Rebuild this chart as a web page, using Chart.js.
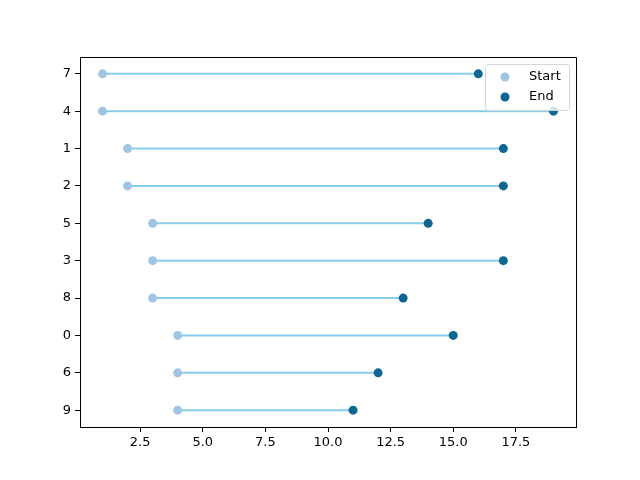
<!DOCTYPE html>
<html>
<head>
<meta charset="utf-8">
<script src="https://cdn.jsdelivr.net/npm/chart.js@4"></script>
<style>
  html, body { margin: 0; padding: 0; background: #fff; }
  #wrap { width: 640px; height: 480px; }
</style>
</head>
<body>
<div id="wrap"><canvas id="chart" width="640" height="480"></canvas></div>
<script>
// rows from bottom (y=0) to top (y=9)
const categories = ['9', '6', '0', '8', '3', '5', '2', '1', '4', '7'];
const startValues = [4, 4, 4, 3, 3, 3, 2, 2, 1, 1];
const endValues = [11, 12, 15, 13, 17, 14, 17, 17, 19, 16];
const xTicks = [2.5, 5.0, 7.5, 10.0, 12.5, 15.0, 17.5];

const startColor = '#a1c4e2';
const endColor = '#0f6691';
const lineColor = '#87ceeb';

// one line per row, connecting start to end
const lineSets = categories.map((c, i) => ({
    type: 'line',
    label: 'row' + c,
    data: [{ x: startValues[i], y: i }, { x: endValues[i], y: i }],
    borderColor: lineColor,
    borderWidth: 2,
    pointRadius: 0,
    showLine: true,
    order: 3
}));

const startSet = {
    type: 'scatter',
    label: 'Start',
    data: startValues.map((v, i) => ({ x: v, y: i })),
    backgroundColor: startColor,
    borderWidth: 0,
    pointRadius: 4.5,
    order: 2
};
const endSet = {
    type: 'scatter',
    label: 'End',
    data: endValues.map((v, i) => ({ x: v, y: i })),
    backgroundColor: endColor,
    borderWidth: 0,
    pointRadius: 4.5,
    order: 1
};

// matplotlib-style legend box inside the plot area
const boxLegend = {
    id: 'boxLegend',
    afterDraw(chart) {
        const ctx = chart.ctx;
        const a = chart.chartArea;
        const w = 84, h = 46;
        const x = a.right - w - 7, y = a.top + 7;
        ctx.save();
        ctx.fillStyle = 'rgba(255,255,255,0.8)';
        ctx.strokeStyle = '#d6d6d6';
        ctx.lineWidth = 1;
        ctx.beginPath();
        ctx.roundRect(x + 0.5, y + 0.5, w, h, 3);
        ctx.fill();
        ctx.stroke();
        const items = [['Start', startColor], ['End', endColor]];
        ctx.font = '13px "DejaVu Sans"';
        ctx.textBaseline = 'middle';
        items.forEach((it, k) => {
            const cy = y + 13 + k * 20;
            ctx.fillStyle = it[1];
            ctx.beginPath();
            ctx.arc(x + 20, cy, 4.5, 0, Math.PI * 2);
            ctx.fill();
            ctx.fillStyle = '#000';
            ctx.fillText(it[0], x + 44, cy);
        });
        ctx.restore();
    }
};

const tickGrid = {
    display: true,
    drawOnChartArea: false,
    drawTicks: true,
    tickLength: 5,
    tickColor: '#000',
    tickWidth: 1
};

new Chart(document.getElementById('chart'), {
    type: 'scatter',
    data: { datasets: [...lineSets, startSet, endSet] },
    options: {
        responsive: false,
        animation: false,
        layout: { padding: { left: 0, right: 64, top: 57, bottom: 0 } },
        plugins: {
            legend: { display: false },
            tooltip: { enabled: false }
        },
        scales: {
            x: {
                type: 'linear',
                min: 0.1,
                max: 19.9,
                afterBuildTicks: (s) => { s.ticks = xTicks.map(v => ({ value: v })); },
                ticks: {
                    color: '#000',
                    font: { family: 'DejaVu Sans', size: 13 },
                    callback: (v) => v.toFixed(1),
                    maxRotation: 0,
                    padding: 3
                },
                grid: tickGrid,
                border: { color: '#000', width: 1 },
                afterFit: (s) => { s.height = 53; }
            },
            y: {
                type: 'linear',
                min: -0.45,
                max: 9.45,
                afterBuildTicks: (s) => { s.ticks = categories.map((c, i) => ({ value: i })); },
                ticks: {
                    color: '#000',
                    font: { family: 'DejaVu Sans', size: 13 },
                    callback: (v) => categories[v],
                    padding: 4
                },
                grid: tickGrid,
                border: { color: '#000', width: 1 },
                afterFit: (s) => { s.width = 80; }
            }
        }
    },
    plugins: [boxLegend, {
        id: 'frame',
        afterDraw(chart) {
            const a = chart.chartArea, ctx = chart.ctx;
            ctx.save();
            ctx.strokeStyle = '#000';
            ctx.lineWidth = 1;
            ctx.beginPath();
            ctx.moveTo(a.left, a.top + 0.5);
            ctx.lineTo(a.right + 0.5, a.top + 0.5);
            ctx.lineTo(a.right + 0.5, a.bottom);
            ctx.stroke();
            ctx.restore();
        }
    }]
});
</script>
</body>
</html>
